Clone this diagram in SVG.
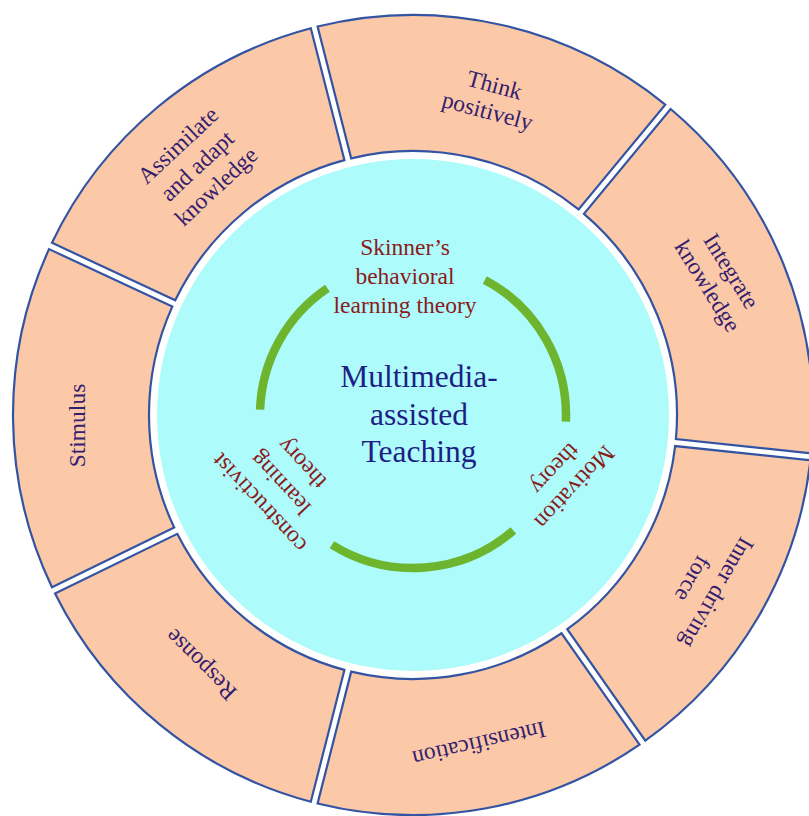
<svg xmlns="http://www.w3.org/2000/svg" width="809" height="816" viewBox="0 0 809 816">
<style>
.seg{fill:#FBC9A7;stroke:#3353A3;stroke-width:2.2}
.lbl{font-family:"Liberation Serif","Times New Roman",serif;font-size:23.5px;fill:#34206E;text-anchor:middle}
.thy{font-family:"Liberation Serif","Times New Roman",serif;font-size:23.5px;fill:#8B1A1A;text-anchor:middle}
.ctr{font-family:"Liberation Serif","Times New Roman",serif;font-size:31.5px;fill:#1E1E85;text-anchor:middle}
.arc{fill:none;stroke:#6DB52E;stroke-width:8.5}
</style>
<rect width="809" height="816" fill="#FFFFFF"/>
<g id="seg-assimilate">
<path class="seg" d="M 51.96 242.80 A 400 400 0 0 1 310.82 28.27 L 344.40 160.07 A 264 264 0 0 0 175.24 300.26 Z"/>
<text class="lbl" transform="translate(202.3,171.5) rotate(-43)"><tspan x="0" y="-28">Assimilate</tspan><tspan x="0" y="0">and adapt</tspan><tspan x="0" y="28">knowledge</tspan></text>
</g>
<g id="seg-think">
<path class="seg" d="M 317.59 26.55 A 400 400 0 0 1 665.27 104.58 L 578.57 209.37 A 264 264 0 0 0 351.19 158.34 Z"/>
<text class="lbl" transform="translate(489,105.5) rotate(15)"><tspan x="0" y="-13.5">Think</tspan><tspan x="0" y="13.5">positively</tspan></text>
</g>
<g id="seg-integrate">
<path class="seg" d="M 670.65 109.03 A 400 400 0 0 1 811.16 453.34 L 675.90 439.11 A 264 264 0 0 0 583.96 213.83 Z"/>
<text class="lbl" transform="translate(712.9,282.6) rotate(58)"><tspan x="0" y="-14">Integrate</tspan><tspan x="0" y="14">knowledge</tspan></text>
</g>
<g id="seg-inner">
<path class="seg" d="M 810.43 460.28 A 400 400 0 0 1 645.28 740.65 L 567.28 629.23 A 264 264 0 0 0 675.17 446.08 Z"/>
<text class="lbl" transform="translate(698.2,581.8) rotate(120)"><tspan x="0" y="-14">Inner driving</tspan><tspan x="0" y="14">force</tspan></text>
</g>
<g id="seg-intensification">
<path class="seg" d="M 639.56 744.65 A 400 400 0 0 1 317.59 803.45 L 351.19 671.66 A 264 264 0 0 0 561.54 633.25 Z"/>
<text class="lbl" transform="translate(477.5,736.6) rotate(167)">Intensification</text>
</g>
<g id="seg-response">
<path class="seg" d="M 310.82 801.73 A 400 400 0 0 1 55.03 593.48 L 177.27 533.85 A 264 264 0 0 0 344.40 669.93 Z"/>
<text class="lbl" transform="translate(206.3,659.2) rotate(225)">Response</text>
</g>
<g id="seg-stimulus">
<path class="seg" d="M 51.96 587.20 A 400 400 0 0 1 49.02 249.12 L 172.28 306.62 A 264 264 0 0 0 174.20 527.58 Z"/>
<text class="lbl" transform="translate(85,425.5) rotate(-90)">Stimulus</text>
</g>
<g id="center">
<circle cx="413" cy="415" r="256" fill="#ADFBFB"/>
<text class="ctr"><tspan x="419" y="387">Multimedia-</tspan><tspan x="419" y="424.5">assisted</tspan><tspan x="419" y="462">Teaching</tspan></text>
</g>
<g id="connectors">
<path class="arc" d="M 260.09 409.66 A 153 153 0 0 1 327.44 288.16"/>
<path class="arc" d="M 484.83 279.91 A 153 153 0 0 1 565.85 421.67"/>
<path class="arc" d="M 513.38 530.47 A 153 153 0 0 1 331.92 544.75"/>
</g>
<g id="theory-skinner">
<text class="thy"><tspan x="405" y="255">Skinner’s</tspan><tspan x="405" y="284">behavioral</tspan><tspan x="405" y="313">learning theory</tspan></text>
</g>
<g id="theory-motivation">
<text class="thy" transform="translate(559.2,472.9) rotate(133)"><tspan x="0" y="-13.5">Motivation</tspan><tspan x="0" y="13.5">theory</tspan></text>
</g>
<g id="theory-constructivist">
<text class="thy" transform="translate(286,478) rotate(227)"><tspan x="0" y="-29">constructivist</tspan><tspan x="0" y="0">learning</tspan><tspan x="0" y="29">theory</tspan></text>
</g>
</svg>
